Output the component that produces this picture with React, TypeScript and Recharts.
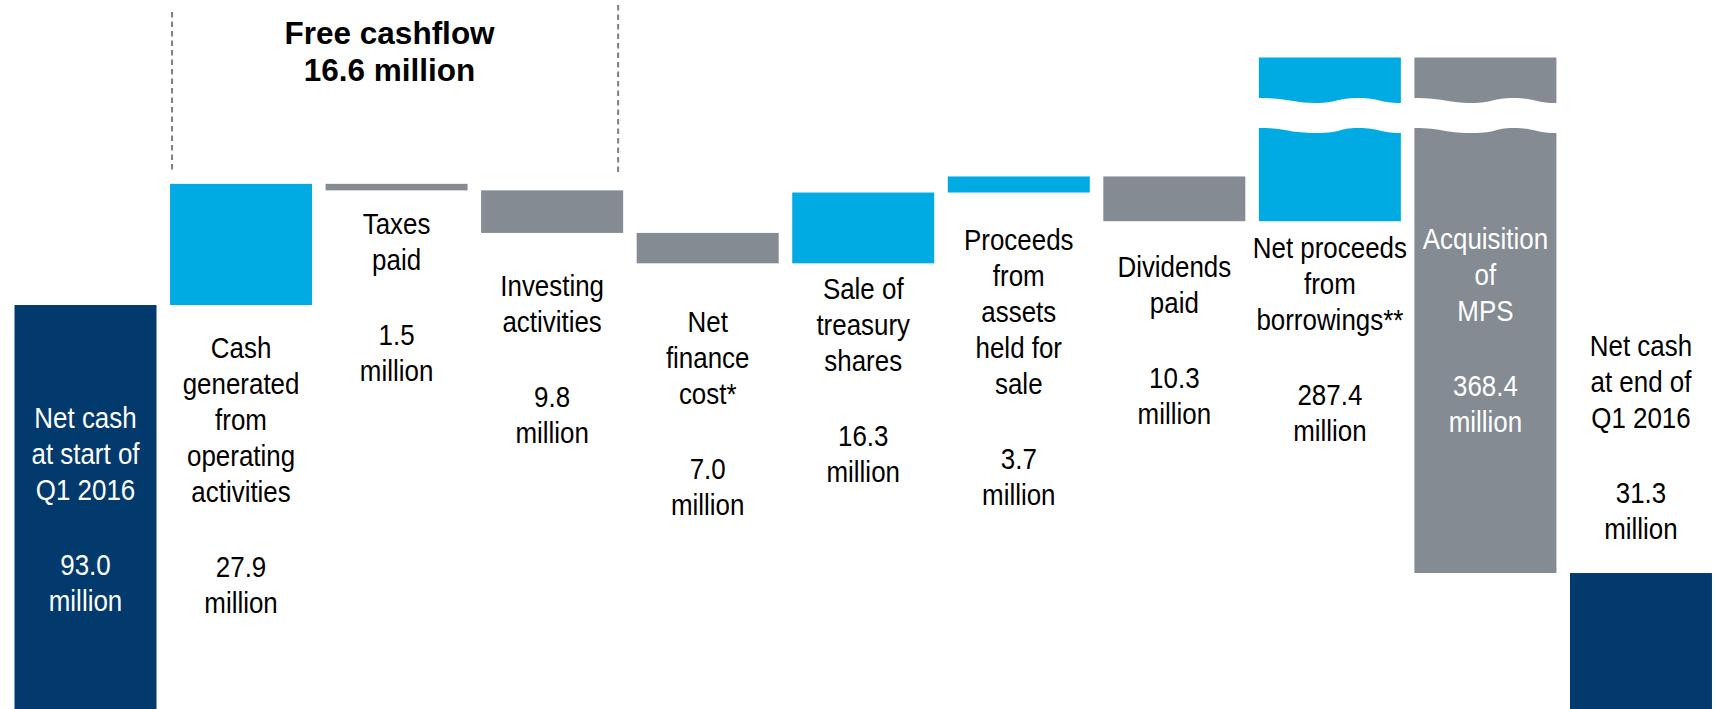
import React from "react";
import { BarChart, Bar, XAxis, YAxis } from "recharts";

// ---- data ----
const categories = [
  "start",
  "operating",
  "taxes",
  "investing",
  "finance",
  "treasury",
  "assets",
  "dividends",
  "borrowings",
  "mps",
  "end",
];

const nameLines = [
  ["Net cash", "at start of", "Q1 2016"],
  ["Cash", "generated", "from", "operating", "activities"],
  ["Taxes", "paid"],
  ["Investing", "activities"],
  ["Net", "finance", "cost*"],
  ["Sale of", "treasury", "shares"],
  ["Proceeds", "from", "assets", "held for", "sale"],
  ["Dividends", "paid"],
  ["Net proceeds", "from", "borrowings**"],
  ["Acquisition", "of", "MPS"],
  ["Net cash", "at end of", "Q1 2016"],
];

// million, signed
const amounts = [93.0, 27.9, -1.5, -9.8, -7.0, 16.3, 3.7, -10.3, 287.4, -368.4, 31.3];
const kinds = ["total", "up", "down", "down", "down", "up", "up", "down", "up", "down", "total"];
const brokenBars = ["borrowings", "mps"];

const freeCashflow = { title: "Free cashflow", value: "16.6 million" };

// ---- styles / layout ----
const COLORS: Record<string, string> = {
  total: "#023a6e",
  up: "#00abe4",
  down: "#848b93",
};
const FONT = "'Liberation Sans', Arial, sans-serif";
const FS = 29.3;
const SX = 0.885; // narrow face
const LINE = 36;
const VALUE_GAP = 75;
// first text line centre (page px) for each column
const LABEL_TOP = [417, 347, 223, 285, 321, 288, 239, 266, 247, 238, 345];
const WHITE_TEXT = [0, 9];

// broken axis: values above BREAK_AT are squeezed
const BREAK_AT = 130;
const BREAK_RATIO = 0.074;
const GAP_LO = 133.2;
const GAP_HI = 140.1;
const squeeze = (v: number) => (v <= BREAK_AT ? v : BREAK_AT + (v - BREAK_AT) * BREAK_RATIO);

let running = 0;
const data = categories.map((key, i) => {
  const amt = amounts[i];
  let lo: number;
  let hi: number;
  if (kinds[i] === "total") {
    lo = 0;
    hi = amt;
    running = amt;
  } else {
    const next = running + amt;
    lo = Math.min(running, next);
    hi = Math.max(running, next);
    running = next;
  }
  return {
    key,
    range: [squeeze(lo), squeeze(hi)],
    fill: COLORS[kinds[i]],
    broken: brokenBars.includes(key),
    value: Math.abs(amt).toFixed(1),
  };
});

const wave = (x0: number, w: number, yb: number, a: number) =>
  `C ${x0 + 0.2 * w} ${yb - a} ${x0 + 0.2 * w} ${yb + a} ${x0 + 0.4 * w} ${yb + a} ` +
  `S ${x0 + 0.55 * w} ${yb - a} ${x0 + 0.7 * w} ${yb - a} ` +
  `S ${x0 + 0.85 * w} ${yb + a} ${x0 + w} ${yb + a}`;

const waveBack = (x0: number, w: number, yb: number, a: number) =>
  `C ${x0 + 0.85 * w} ${yb + a} ${x0 + 0.85 * w} ${yb - a} ${x0 + 0.7 * w} ${yb - a} ` +
  `S ${x0 + 0.55 * w} ${yb + a} ${x0 + 0.4 * w} ${yb + a} ` +
  `S ${x0 + 0.2 * w} ${yb - a} ${x0} ${yb - a}`;

const Narrow = ({ x, y, fill, children }: any) => (
  <text
    transform={`translate(${x} ${y}) scale(${SX} 1)`}
    textAnchor="middle"
    fontFamily={FONT}
    fontSize={FS}
    fill={fill}
  >
    {children}
  </text>
);

const renderBar = (props: any) => {
  const { x, y, width, height, index, payload } = props;
  const [lo, hi] = payload.range;
  const cx = x + width / 2;
  const white = WHITE_TEXT.includes(index);
  const lines: { t: string; y: number }[] = [];
  const names = nameLines[index];
  const top = LABEL_TOP[index];
  names.forEach((t, i) => lines.push({ t, y: top + i * LINE }));
  const vy = top + (names.length - 1) * LINE + VALUE_GAP;
  lines.push({ t: payload.value, y: vy });
  lines.push({ t: "million", y: vy + LINE });

  let rect: React.ReactNode;
  if (payload.broken) {
    const k = height / (hi - lo);
    const gTop = y + (hi - GAP_HI) * k;
    const gBot = y + (hi - GAP_LO) * k;
    const a = 2.5;
    const d1 = `M ${x} ${y} H ${x + width} V ${gTop + a} ${waveBack(x, width, gTop, a)} Z`;
    const d2 = `M ${x} ${gBot - a} ${wave(x, width, gBot, a)} V ${y + height} H ${x} Z`;
    rect = (
      <g>
        <path d={d1} fill={payload.fill} />
        <path d={d2} fill={payload.fill} />
      </g>
    );
  } else {
    rect = <rect x={x} y={y} width={width} height={height} fill={payload.fill} />;
  }

  return (
    <g>
      {rect}
      {lines.map((l, i) => (
        <Narrow key={i} x={cx} y={l.y + 11} fill={white ? "#ffffff" : "#000000"}>
          {l.t}
        </Narrow>
      ))}
      {index === 1 && (
        <line x1={x + 2} x2={x + 2} y1={12} y2={173} stroke="#7f7f7f" strokeWidth={2} strokeDasharray="5.5 4" />
      )}
      {index === 3 && (
        <line x1={x + width - 5} x2={x + width - 5} y1={5} y2={176} stroke="#7f7f7f" strokeWidth={2} strokeDasharray="5.5 4" />
      )}
      {index === 2 && (
        <g fontFamily={FONT} fontWeight="bold" fontSize={31.5} fill="#000" textAnchor="middle">
          <text x={cx - 7} y={44}>
            {freeCashflow.title}
          </text>
          <text x={cx - 7} y={81}>
            {freeCashflow.value}
          </text>
        </g>
      )}
    </g>
  );
};

export default function App() {
  return (
    <div style={{ position: "absolute", left: 0, top: 0, width: 1717, height: 709, background: "#fff" }}>
      <BarChart
        width={1717}
        height={709}
        data={data}
        margin={{ top: 14, right: -1.5, bottom: 0, left: 7.5 }}
        barCategoryGap={7}
      >
        <XAxis dataKey="key" hide />
        <YAxis hide domain={[0, 160]} />
        <Bar dataKey="range" isAnimationActive={false} shape={renderBar} />
      </BarChart>
    </div>
  );
}
